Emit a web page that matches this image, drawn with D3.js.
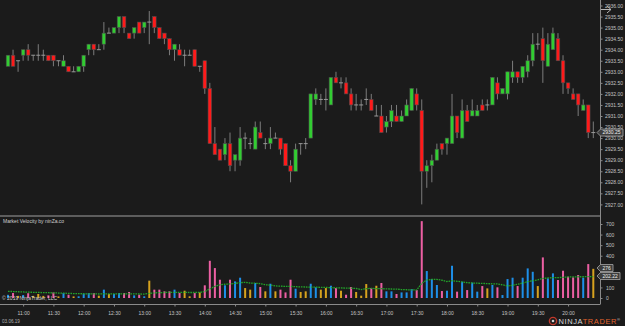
<!DOCTYPE html>
<html>
<head>
<meta charset="utf-8">
<script src="https://cdn.jsdelivr.net/npm/d3@7"></script>
<style>
  html, body { margin: 0; padding: 0; background: #1b1b1b; }
  svg { display: block; font-family: "Liberation Sans", Arial, sans-serif; }
</style>
</head>
<body>
<svg id="chart" width="625" height="326"></svg>
<script>
// 5 minute bars, first bar 10:45
const startTime = new Date(2019, 4, 6, 10, 45);
const barMinutes = 5;

// [open, high, low, close]
const ohlc = [
  [2933.25, 2933.75, 2933.25, 2933.75], [2933.75, 2934.00, 2933.25, 2933.25], [2933.50, 2933.50, 2933.00, 2933.50],
  [2933.75, 2934.00, 2933.50, 2934.00], [2934.00, 2934.25, 2933.50, 2933.75], [2933.75, 2933.75, 2933.50, 2933.75],
  [2933.75, 2934.25, 2933.50, 2933.75], [2933.75, 2934.00, 2933.50, 2933.75], [2933.75, 2933.75, 2933.50, 2933.50],
  [2933.75, 2933.75, 2933.25, 2933.50], [2933.50, 2933.50, 2933.25, 2933.50], [2933.25, 2933.75, 2933.25, 2933.50],
  [2933.25, 2933.25, 2933.00, 2933.00], [2933.00, 2933.25, 2933.00, 2933.00], [2933.00, 2933.25, 2933.00, 2933.25],
  [2933.25, 2933.75, 2933.00, 2933.75], [2934.00, 2934.25, 2933.75, 2934.25], [2934.25, 2934.25, 2933.75, 2934.00],
  [2934.00, 2934.25, 2934.00, 2934.00], [2934.25, 2935.25, 2934.00, 2934.75], [2934.75, 2935.00, 2934.75, 2934.75],
  [2934.75, 2935.00, 2934.75, 2935.00], [2935.00, 2935.50, 2934.75, 2935.50], [2935.50, 2935.50, 2934.75, 2935.00],
  [2934.75, 2934.75, 2934.50, 2934.50], [2934.75, 2935.00, 2934.50, 2935.00], [2935.25, 2935.25, 2934.75, 2934.75],
  [2935.00, 2935.25, 2934.75, 2935.25], [2935.25, 2935.75, 2934.25, 2935.25], [2935.50, 2935.50, 2934.75, 2935.00],
  [2935.00, 2935.00, 2934.50, 2934.50], [2934.75, 2934.75, 2934.25, 2934.50], [2934.50, 2934.50, 2933.75, 2934.00],
  [2934.00, 2934.25, 2933.50, 2934.25], [2934.00, 2934.25, 2933.75, 2933.75], [2933.75, 2934.00, 2933.25, 2933.75],
  [2933.75, 2934.00, 2933.75, 2933.75], [2934.00, 2934.00, 2933.25, 2933.25], [2933.25, 2933.25, 2933.00, 2933.25],
  [2933.50, 2933.50, 2932.00, 2932.25], [2932.25, 2932.50, 2929.75, 2929.75], [2929.75, 2930.50, 2929.25, 2929.25],
  [2929.50, 2929.50, 2929.00, 2929.00], [2929.25, 2930.00, 2929.00, 2929.75], [2929.75, 2930.25, 2928.50, 2928.75],
  [2929.00, 2929.25, 2928.50, 2929.25], [2929.00, 2930.50, 2928.75, 2930.00], [2930.00, 2930.25, 2929.50, 2930.00],
  [2929.75, 2930.00, 2929.50, 2929.75], [2929.50, 2930.75, 2929.50, 2930.50], [2930.25, 2930.75, 2930.00, 2930.00],
  [2929.75, 2930.00, 2929.50, 2929.75], [2929.75, 2930.50, 2929.50, 2930.00], [2930.00, 2930.25, 2930.00, 2930.00],
  [2930.00, 2930.00, 2929.25, 2929.50], [2929.75, 2929.75, 2928.75, 2928.75], [2928.75, 2929.00, 2928.00, 2928.50],
  [2928.50, 2929.75, 2928.50, 2929.50], [2929.75, 2929.75, 2929.25, 2929.75], [2929.75, 2930.00, 2929.50, 2929.75],
  [2930.00, 2932.00, 2930.00, 2932.00], [2931.75, 2932.25, 2931.50, 2932.00], [2931.75, 2932.00, 2931.50, 2931.75],
  [2931.75, 2932.25, 2931.25, 2931.75], [2931.50, 2932.75, 2931.50, 2932.75], [2932.75, 2933.00, 2932.50, 2932.50],
  [2932.50, 2932.75, 2932.25, 2932.50], [2932.50, 2932.75, 2932.00, 2932.00], [2932.00, 2932.25, 2931.25, 2931.50],
  [2931.50, 2932.00, 2931.25, 2931.50], [2931.50, 2931.75, 2931.25, 2931.50], [2931.75, 2932.25, 2931.50, 2931.75],
  [2931.75, 2932.00, 2931.25, 2931.25], [2931.00, 2931.50, 2931.00, 2931.00], [2931.00, 2931.50, 2930.25, 2930.25],
  [2930.50, 2931.00, 2930.25, 2930.75], [2930.75, 2931.50, 2930.50, 2931.25], [2931.00, 2931.50, 2930.75, 2930.75],
  [2930.75, 2931.25, 2930.75, 2931.00], [2931.00, 2931.75, 2931.00, 2931.50], [2931.25, 2932.25, 2931.25, 2932.25],
  [2932.00, 2932.25, 2931.25, 2931.50], [2931.25, 2931.75, 2927.00, 2928.50], [2928.50, 2929.00, 2927.75, 2928.75],
  [2928.75, 2929.25, 2928.00, 2929.00], [2929.00, 2929.75, 2929.00, 2929.50], [2929.75, 2929.75, 2929.25, 2929.50],
  [2929.75, 2930.00, 2929.25, 2930.00], [2929.75, 2932.00, 2929.75, 2931.00], [2931.00, 2931.00, 2930.00, 2930.25],
  [2930.00, 2931.75, 2930.00, 2931.25], [2931.25, 2931.50, 2930.75, 2930.75], [2931.00, 2931.75, 2931.00, 2931.25],
  [2931.00, 2931.50, 2931.00, 2931.25], [2931.50, 2931.75, 2931.25, 2931.25], [2931.50, 2931.75, 2931.25, 2931.50],
  [2931.50, 2932.75, 2931.50, 2932.75], [2932.50, 2932.75, 2931.75, 2932.00], [2932.00, 2932.25, 2932.00, 2932.25],
  [2932.00, 2933.00, 2931.75, 2933.00], [2932.75, 2933.50, 2932.50, 2933.00], [2933.00, 2933.00, 2932.50, 2932.75],
  [2932.75, 2933.25, 2932.50, 2933.25], [2933.00, 2933.75, 2932.75, 2933.50], [2933.50, 2934.75, 2933.25, 2934.25],
  [2934.25, 2934.75, 2934.00, 2934.25], [2934.50, 2935.00, 2932.50, 2933.50], [2933.25, 2934.75, 2933.25, 2934.25],
  [2934.00, 2935.00, 2934.00, 2934.75], [2934.50, 2934.75, 2933.50, 2933.50], [2933.50, 2933.75, 2932.00, 2932.50],
  [2932.50, 2932.50, 2932.00, 2932.25], [2932.00, 2932.25, 2931.75, 2931.75], [2932.00, 2932.00, 2931.00, 2931.50],
  [2931.25, 2931.75, 2931.25, 2931.50], [2931.50, 2931.50, 2930.00, 2930.25], [2930.25, 2930.75, 2930.00, 2930.25],
];

const velocity = [
  30, 47, 20, 28, 45, 20, 38, 20, 25, 53, 15, 47, 31, 15, 16, 41, 47, 47, 22, 79,
  38, 38, 47, 47, 57, 25, 31, 16, 164, 79, 79, 63, 63, 79, 47, 69, 16, 47, 53, 120,
  352, 283, 173, 120, 173, 157, 192, 94, 79, 142, 104, 63, 135, 63, 79, 53, 173, 88, 57, 63,
  135, 101, 79, 94, 116, 94, 69, 31, 104, 57, 22, 132, 94, 116, 142, 63, 63, 38, 53, 53,
  85, 75, 727, 255, 179, 123, 66, 69, 305, 60, 154, 75, 145, 60, 113, 91, 123, 101, 28, 179,
  192, 113, 192, 280, 248, 113, 384, 186, 233, 170, 258, 201, 195, 217, 192, 321, 276,
];

const velocityAvg = [
  63, 61, 59, 57, 55, 54, 53, 51, 50, 49, 47, 46, 44, 42, 41, 40, 39, 39, 38, 40,
  39, 39, 39, 39, 40, 39, 38, 37, 44, 48, 51, 52, 53, 54, 53, 54, 52, 52, 53, 62,
  85, 110, 125, 130, 133, 138, 145, 148, 142, 140, 136, 125, 122, 114, 112, 110, 110, 107, 105, 104,
  103, 102, 101, 100, 98, 96, 95, 94, 93, 90, 80, 88, 91, 89, 88, 86, 85, 84, 80, 78,
  77, 76, 140, 170, 176, 176, 168, 156, 163, 158, 152, 145, 142, 140, 138, 136, 134, 133, 125, 114,
  120, 130, 142, 154, 163, 172, 185, 190, 192, 193, 196, 199, 200, 201, 201, 202, 202.22,
];

const priceTicks = d3.range(2927, 2936.01, 0.5);
// 200 and 300 sit under the value tags, so the platform leaves them out
const velocityTicks = [0, 100, 400, 500, 600, 700];

const bg = '#1b1b1b';
const upColor = '#32cd32';
const downColor = '#ff1a1a';
const wickColor = '#7c7c7c';
const velUp = '#1e8fe8';
const velDown = '#ec5fa3';
const velFlat = '#d6a21e';
const fs = 5;

const svg = d3.select('#chart');
svg.append('rect').attr('width', 625).attr('height', 326).attr('fill', bg);

const timeOf = (i) => d3.timeMinute.offset(startTime, i * barMinutes);
const x = d3.scaleTime()
  .domain([startTime, timeOf(ohlc.length - 1)])
  .range([8, 593.3]);
const yP = d3.scaleLinear().domain([2927, 2936]).range([204.4, 5.5]);
const yV = d3.scaleLinear().domain([0, 700]).range([298, 224]);

const dir = (d) => (d[3] > d[0] ? 1 : d[3] < d[0] ? -1 : 0);

// ---- price panel
const candles = svg.append('g').selectAll('g')
  .data(ohlc)
  .join('g')
  .attr('transform', (d, i) => `translate(${x(timeOf(i))},0)`);
candles.append('line')
  .attr('y1', (d) => yP(d[1]))
  .attr('y2', (d) => yP(d[2]))
  .attr('stroke', wickColor)
  .attr('stroke-width', 1);
candles.filter((d) => dir(d) !== 0)
  .append('rect')
  .attr('x', -1.8)
  .attr('width', 3.6)
  .attr('y', (d) => yP(Math.max(d[0], d[3])))
  .attr('height', (d) => Math.abs(yP(d[0]) - yP(d[3])))
  .attr('fill', (d) => (dir(d) > 0 ? upColor : downColor))
  .attr('stroke', '#4a4a4a')
  .attr('stroke-width', 0.6);
candles.filter((d) => dir(d) === 0)
  .append('line')
  .attr('x1', -2)
  .attr('x2', 2)
  .attr('y1', (d) => yP(d[0]))
  .attr('y2', (d) => yP(d[0]))
  .attr('stroke', '#9a9a9a')
  .attr('stroke-width', 1);

// ---- velocity panel
svg.append('g').selectAll('rect')
  .data(velocity)
  .join('rect')
  .attr('x', (d, i) => x(timeOf(i)) - 1)
  .attr('width', 2)
  .attr('y', (d) => yV(d))
  .attr('height', (d) => yV(0) - yV(d))
  .attr('fill', (d, i) => {
    const s = dir(ohlc[i]);
    return s > 0 ? velUp : s < 0 ? velDown : velFlat;
  });

svg.append('path')
  .datum(velocityAvg)
  .attr('fill', 'none')
  .attr('stroke', '#22a52a')
  .attr('stroke-width', 1.3)
  .attr('stroke-dasharray', '1.6,0.9')
  .attr('d', d3.line().x((d, i) => x(timeOf(i))).y((d) => yV(d)));

// ---- frame lines
svg.append('line').attr('x1', 0).attr('x2', 600).attr('y1', 216).attr('y2', 216)
  .attr('stroke', '#a0a0a0').attr('stroke-width', 1.2);
svg.append('line').attr('x1', 0).attr('x2', 600).attr('y1', 304.5).attr('y2', 304.5)
  .attr('stroke', '#8a8a8a').attr('stroke-width', 1);
svg.append('line').attr('x1', 600.5).attr('x2', 600.5).attr('y1', 0).attr('y2', 304.5)
  .attr('stroke', '#8a8a8a').attr('stroke-width', 1);

function styleAxis(g) {
  g.select('.domain').remove();
  g.selectAll('line').attr('stroke', '#8a8a8a');
  g.selectAll('text').attr('fill', '#c4c4c4').attr('font-size', fs)
    .attr('font-family', '"Liberation Sans", Arial, sans-serif');
}

svg.append('g')
  .attr('transform', 'translate(600.5,0)')
  .call(d3.axisRight(yP).tickValues(priceTicks).tickFormat(d3.format('.2f')).tickSize(2).tickPadding(2.5))
  .call(styleAxis);

svg.append('g')
  .attr('transform', 'translate(600.5,0)')
  .call(d3.axisRight(yV).tickValues(velocityTicks).tickFormat(d3.format('d')).tickSize(2).tickPadding(3.5))
  .call(styleAxis);

svg.append('g')
  .attr('transform', 'translate(0,304.5)')
  .call(d3.axisBottom(x).ticks(d3.timeMinute.every(30)).tickFormat(d3.timeFormat('%H:%M')).tickSize(2).tickPadding(4.5))
  .call(styleAxis);

// ---- value tags on the right axis
function tag(y, w, label) {
  const h = 3.5;
  const g = svg.append('g');
  g.append('path')
    .attr('d', `M597,${y}L600.5,${y - h}L${597 + w},${y - h}L${597 + w},${y + h}L600.5,${y + h}Z`)
    .attr('fill', '#3d3d3d')
    .attr('stroke', '#a8a8a8')
    .attr('stroke-width', 0.8);
  g.append('text')
    .attr('x', 602.5).attr('y', y + 1.8)
    .attr('fill', '#f0f0f0').attr('font-size', fs)
    .text(label);
}
const last = ohlc[ohlc.length - 1];
tag(yP(last[3]), 26, d3.format('.2f')(last[3]));
tag(yV(velocity[velocity.length - 1]) - 0.8, 16, d3.format('d')(velocity[velocity.length - 1]));
tag(yV(velocityAvg[velocityAvg.length - 1]) - 0.6, 23, d3.format('.2f')(velocityAvg[velocityAvg.length - 1]));

// ---- texts
svg.append('text').attr('x', 3).attr('y', 223)
  .attr('fill', '#cfcfcf').attr('font-size', fs)
  .text('Market Velocity by ninZa.co');
svg.append('text').attr('x', 2).attr('y', 299.5)
  .attr('fill', '#cfcfcf').attr('font-size', fs)
  .text('© 2019 NinjaTrader, LLC');
svg.append('text').attr('x', 2).attr('y', 322.5)
  .attr('fill', '#b0b0b0').attr('font-size', 4.6)
  .text('03.06.19');

// scroll arrow top right
svg.append('path')
  .attr('d', 'M601,9.5H611M607,6L611,9.5L607,13')
  .attr('fill', 'none').attr('stroke', '#b5b5b5').attr('stroke-width', 1);

// logo
const logo = svg.append('g');
logo.append('circle').attr('cx', 553).attr('cy', 321).attr('r', 3.6)
  .attr('fill', 'none').attr('stroke', '#c0392b').attr('stroke-width', 1.4);
logo.append('circle').attr('cx', 553).attr('cy', 321).attr('r', 1.3).attr('fill', '#d0d0d0');
const lt = logo.append('text').attr('x', 558.5).attr('y', 324)
  .attr('font-size', 7.5).attr('letter-spacing', 0.6);
lt.append('tspan').attr('fill', '#d8d8d8').text('NINJA');
lt.append('tspan').attr('fill', '#e0622e').text('TRADER');
lt.append('tspan').attr('fill', '#d8d8d8').attr('font-size', 4).attr('dy', -3).text('®');
</script>
</body>
</html>
